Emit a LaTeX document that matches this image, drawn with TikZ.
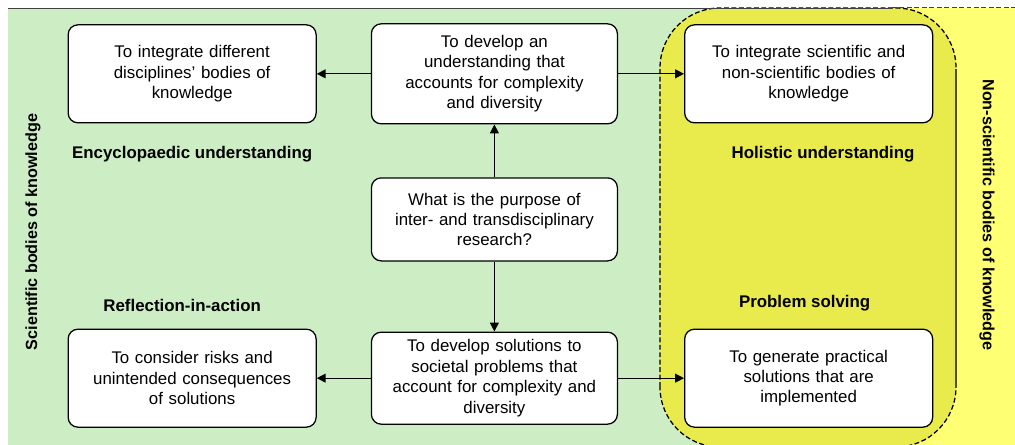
\documentclass[tikz,border=0pt]{standalone}
\usepackage{fontspec}
\setmainfont{Liberation Sans}
\usepackage{xcolor}
\definecolor{scigreen}{RGB}{205, 237, 196}
\definecolor{nonsciyel}{RGB}{255, 255, 115}
\definecolor{overlapyel}{RGB}{233, 234, 75}
\definecolor{edgeolive}{RGB}{80, 80, 20}
\usepackage{tikz}
\usetikzlibrary{positioning, arrows.meta}

\begin{document}
\begin{tikzpicture}[>={Triangle[length=2.2mm, width=2.2mm]}]

  \tikzstyle{aimbox} = [
    rounded corners=7pt,
    draw=black, line width=0.9pt, fill=white,
    minimum width=6.2cm, minimum height=2.45cm,
    align=center, text width=5.9cm, inner sep=0pt,
    font=\fontsize{12}{14.5}\selectfont
  ]
  \tikzstyle{modelabel} = [font=\fontsize{12}{14.5}\selectfont\bfseries]
  \tikzstyle{sidelabel} = [font=\fontsize{11.5}{14}\selectfont\bfseries]

  \useasboundingbox (0,0) rectangle (25.375,11.125);

  % the two bodies of knowledge
  \fill[scigreen] (0.2,0) rectangle (23.9,10.925);
  \fill[nonsciyel] (22.3,0) rectangle (25.375,10.925);
  \filldraw[fill=overlapyel, draw=black, line width=0.9pt,
    dash pattern=on 3.5pt off 1.8pt, rounded corners=1.5cm]
    (16.5,-0.05) rectangle (23.9,10.925);
  \draw[black!75, line width=0.6pt] (0.2,10.925) -- (22.3,10.925);
  \draw[black!75, line width=0.7pt, dash pattern=on 3.5pt off 1.8pt]
    (22.3,10.925) -- (25.375,10.925);
  \draw[edgeolive, line width=0.9pt] (23.9,9.4) -- (23.9,1.5);

  \node[aimbox, minimum width=6.15cm, minimum height=2.075cm] (purpose)
    at (12.36,5.64)
    {What is the purpose of\\ inter- and transdisciplinary\\ research?};

  \node[aimbox, minimum width=6.15cm, minimum height=2.5cm, above=1.32cm of purpose] (understand)
    {To develop an\\ understanding that\\ accounts for complexity\\ and diversity};

  \node[aimbox, minimum width=6.15cm, minimum height=2.3cm, below=1.75cm of purpose] (solve)
    {To develop solutions to\\ societal problems that\\ account for complexity and\\ diversity};

  \node[aimbox, left=1.35cm of understand] (disciplines)
    {To integrate different\\ disciplines’ bodies of\\ knowledge};

  \node[aimbox, right=1.65cm of understand] (nonsci)
    {To integrate scientific and\\ non-scientific bodies of\\ knowledge};

  \node[aimbox, left=1.35cm of solve] (risks)
    {To consider risks and\\ unintended consequences\\ of solutions};

  \node[aimbox, right=1.65cm of solve] (practical)
    {To generate practical\\ solutions that are\\ implemented};

  \node[modelabel, below=0.45cm of disciplines] (encyc) {Encyclopaedic understanding};
  \node[modelabel, below=0.45cm of nonsci, xshift=0.36cm] (holistic) {Holistic understanding};
  \node[modelabel, above=0.3cm of risks, xshift=-0.25cm] (reflect) {Reflection-in-action};
  \node[modelabel, above=0.3cm of practical, xshift=-0.1cm] (problem) {Problem solving};

  \node[sidelabel, rotate=90] (scibodies) at (0.825,5.325) {Scientific bodies of knowledge};
  \node[sidelabel, rotate=-90] (nonscibodies) at (24.675,5.75) {Non-scientific bodies of knowledge};

  \draw[->, line width=0.9pt] (understand.west) -- (disciplines.east);
  \draw[->, line width=0.9pt] (understand.east) -- (nonsci.west);
  \draw[->, line width=0.9pt] (purpose.north) -- (understand.south);
  \draw[->, line width=0.9pt] (purpose.south) -- (solve.north);
  \draw[->, line width=0.9pt] (solve.west) -- (risks.east);
  \draw[->, line width=0.9pt] (solve.east) -- (practical.west);

\end{tikzpicture}
\end{document}
